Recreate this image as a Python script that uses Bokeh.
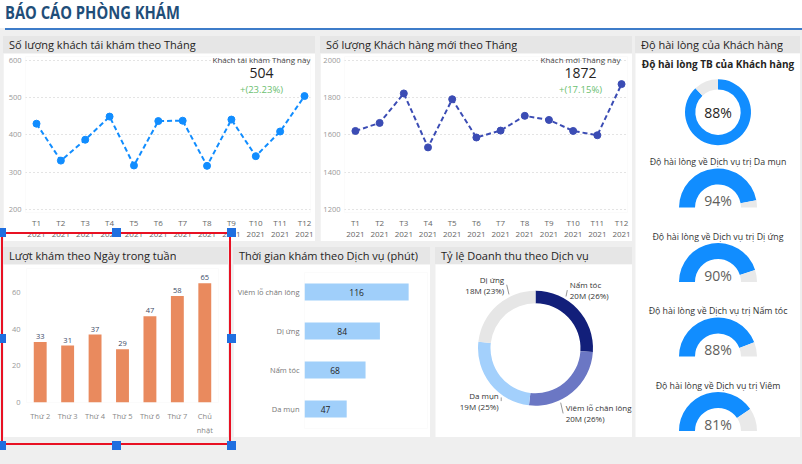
import math
import numpy as np
from bokeh.plotting import figure
from bokeh.models import (ColumnDataSource, Div, FixedTicker, Label, LabelSet, LinearAxis,
                          FactorRange, Range1d, Spacer)
from bokeh.layouts import column, row
from bokeh.embed import file_html
from bokeh.resources import INLINE
from bokeh.core.properties import value

FONT = "Open Sans"
HEADER_BG = "#E6E6E6"
PAGE_BG = "#EFEFEF"
TEXT = "#252423"
BLUE = "#118DFF"
INDIGO = "#3B4CB4"
ORANGE = "#E98A5E"
LIGHT_BLUE = "#A0CFFA"
GAUGE_GRAY = "#E9E9E9"
REV_COLORS = ["#121F7A", "#6B77C4", "#A3D0FC", "#E6E6E6"]
SEL_RED = "#E81123"
SEL_BLUE = "#1F6FE0"

# ---------------- data ----------------
page_title = "BÁO CÁO PHÒNG KHÁM"
month_ticks = ["T1", "T2", "T3", "T4", "T5", "T6", "T7", "T8", "T9", "T10", "T11", "T12"]
year = "2021"
returning_visits = [430, 331, 387, 449, 318, 437, 438, 317, 441, 343, 409, 504]
new_customers = [1621, 1664, 1822, 1533, 1791, 1586, 1623, 1702, 1680, 1621, 1598, 1872]
returning_ticks = [200, 300, 400, 500, 600]
new_ticks = [1200, 1400, 1600, 1800, 2000]

weekdays = ["Thứ 2", "Thứ 3", "Thứ 4", "Thứ 5", "Thứ 6", "Thứ 7", "Chủ nhật"]
weekday_visits = [33, 31, 37, 29, 47, 58, 65]
weekday_ticks = [0, 20, 40, 60]

services = ["Viêm lỗ chân lông", "Dị ứng", "Nấm tóc", "Da mụn"]
service_minutes = [116, 84, 68, 47]

revenue_services = ["Nấm tóc", "Viêm lỗ chân lông", "Da mụn", "Dị ứng"]
revenue_millions = [20.1, 19.9, 19.3, 17.9]

satisfaction_avg = 0.88
satisfaction_services = ["Da mụn", "Dị ứng", "Nấm tóc", "Viêm"]
satisfaction_values = [0.94, 0.90, 0.88, 0.81]

HDR = 17


# ---------------- helpers ----------------
def header(text, width, height=HDR):
    html = (f'<div style="font-family:\'{FONT}\';font-size:11px;color:{TEXT};'
            f'line-height:{height}px;padding-left:6px;white-space:nowrap;overflow:hidden;">{text}</div>')
    return Div(text=html, width=width, height=height, margin=0,
               styles={"background-color": HEADER_BG})


def base_fig(**kw):
    p = figure(output_backend="svg", toolbar_location=None, **kw)
    p.outline_line_color = None
    p.background_fill_color = "white"
    p.border_fill_color = "white"
    return p


def style_axis(ax, size="7.5px", color="#999999", standoff=4):
    ax.axis_line_color = None
    ax.major_tick_line_color = None
    ax.minor_tick_line_color = None
    ax.major_tick_in = 0
    ax.major_tick_out = 0
    ax.major_label_text_font = FONT
    ax.major_label_text_font_size = size
    ax.major_label_text_color = color
    ax.major_label_standoff = standoff


def line_panel(title, vals, color, caption, y0, y1, yticks, width, height):
    fig_h = height - HDR
    left, right, top, frame_h = 22, 5, 3, 156
    frame_w = width - left - right
    step = (frame_w - 17) / 11.0
    p = base_fig(width=width, height=fig_h,
                 x_range=Range1d(1 - 11 / step, 12 + 6 / step), y_range=Range1d(y0, y1),
                 min_border_left=left, min_border_right=right, min_border_top=top,
                 min_border_bottom=fig_h - top - frame_h)
    src = ColumnDataSource(dict(m=list(range(1, 13)), v=vals))
    p.line("m", "v", source=src, line_color=color, line_width=2, line_dash="5 3")
    p.scatter("m", "v", source=src, size=7, fill_color=color, line_color=color)
    p.xgrid.grid_line_color = None
    p.ygrid.grid_line_color = "#C8C8C8"
    p.ygrid.grid_line_dash = "1 3"
    p.yaxis.ticker = FixedTicker(ticks=yticks)
    style_axis(p.yaxis[0], standoff=4)
    ticks = list(range(1, 13))
    p.xaxis.ticker = FixedTicker(ticks=ticks)
    p.xaxis.major_label_overrides = {t: m for t, m in zip(ticks, month_ticks)}
    style_axis(p.xaxis[0], size="8px", color="#666666", standoff=4)
    yr = LinearAxis(ticker=FixedTicker(ticks=ticks),
                    major_label_overrides={t: year for t in ticks})
    style_axis(yr, size="8px", color="#666666", standoff=1)
    p.add_layout(yr, "below")
    pct = (vals[-1] / vals[-2] - 1) * 100
    cx = frame_w - 49
    p.add_layout(Label(x=cx, y=frame_h - 3.3, x_units="screen", y_units="screen", text=caption,
                       text_font=FONT, text_font_size="8px", text_color="#444444",
                       text_align="center", text_baseline="middle"))
    p.add_layout(Label(x=cx, y=frame_h - 16.7, x_units="screen", y_units="screen", text=str(vals[-1]),
                       text_font=FONT, text_font_size="14px", text_color=TEXT,
                       text_align="center", text_baseline="middle"))
    p.add_layout(Label(x=cx, y=frame_h - 33.3, x_units="screen", y_units="screen", text=f"+({pct:.2f}%)",
                       text_font=FONT, text_font_size="9.5px", text_color="#6CC070",
                       text_align="center", text_baseline="middle"))
    return column(header(title, width), p, spacing=0)


def weekday_panel(width, height):
    fig_h = height - HDR
    top, frame_h = 4, 137
    xs = [i + 0.5 for i in range(len(weekdays))]
    src = ColumnDataSource(dict(x=xs, visits=weekday_visits,
                                lbl=[str(v) for v in weekday_visits]))
    p = base_fig(width=width, height=fig_h, x_range=Range1d(0, len(weekdays)), y_range=Range1d(0, 73),
                 min_border_left=23, min_border_right=10, min_border_top=top,
                 min_border_bottom=fig_h - top - frame_h)
    p.vbar(x="x", top="visits", width=0.47, source=src, fill_color=ORANGE, line_color=None)
    p.add_layout(LabelSet(x="x", y="visits", text="lbl", source=src, y_offset=3,
                          text_font=value(FONT), text_font_size="7.5px", text_color="#3B4A66",
                          text_align="center", text_baseline="bottom"))
    p.grid.grid_line_color = None
    p.yaxis.ticker = FixedTicker(ticks=weekday_ticks)
    style_axis(p.yaxis[0], standoff=6)
    first = [d.split(" ")[0] if len(d.split(" ")[-1]) > 1 else d for d in weekdays]
    second = [d.split(" ")[1] if len(d.split(" ")[-1]) > 1 else "" for d in weekdays]
    p.xaxis.ticker = FixedTicker(ticks=xs)
    p.xaxis.major_label_overrides = {x: f for x, f in zip(xs, first)}
    style_axis(p.xaxis[0], color="#888888", standoff=8)
    ax2 = LinearAxis(ticker=FixedTicker(ticks=xs),
                     major_label_overrides={x: s for x, s in zip(xs, second)})
    style_axis(ax2, color="#888888", standoff=1)
    p.add_layout(ax2, "below")
    return column(header("Lượt khám theo Ngày trong tuần", width), p, spacing=0)


def selection_frame(gap_w, gap_h, left, top, width, height):
    """Power BI style selection outline, drawn from a gap element next to the selected visual."""
    parts = [f'<div style="position:absolute;left:{left}px;top:{top}px;width:{width}px;height:{height}px;'
             f'box-sizing:border-box;border:2px solid {SEL_RED};"></div>']
    for hx in (left, left + width / 2, left + width):
        for hy in (top, top + height / 2, top + height):
            if hx == left + width / 2 and hy == top + height / 2:
                continue
            parts.append(f'<div style="position:absolute;left:{hx - 4.5}px;top:{hy - 4.5}px;width:9px;'
                         f'height:9px;background:{SEL_BLUE};"></div>')
    html = (f'<div style="position:relative;width:{gap_w}px;height:{gap_h}px;overflow:visible;">'
            + "".join(parts) + "</div>")
    return Div(text=html, width=gap_w, height=gap_h, margin=0,
               styles={"overflow": "visible", "z-index": "5"})


def service_panel(width, height):
    fig_h = height - HDR
    src = ColumnDataSource(dict(svc=services, minutes=service_minutes,
                                mid=[m / 2 for m in service_minutes],
                                lbl=[str(m) for m in service_minutes]))
    p = base_fig(width=width, height=fig_h, y_range=FactorRange(*services[::-1]),
                 x_range=Range1d(0, 137), x_axis_location=None,
                 min_border_left=71, min_border_right=3, min_border_top=8, min_border_bottom=9)
    p.hbar(y="svc", right="minutes", height=0.44, source=src, fill_color=LIGHT_BLUE, line_color=None)
    p.text(x="mid", y="svc", text="lbl", source=src, text_font=value(FONT), text_font_size="8.5px",
           text_color=TEXT, text_align="center", text_baseline="middle")
    style_axis(p.yaxis[0], color="#777777", standoff=5)
    p.grid.grid_line_color = None
    return column(header("Thời gian khám theo Dịch vụ (phút)", width), p, spacing=0)


def revenue_panel(width, height):
    fig_h = height - HDR
    cx_off, cy_off = 100, 83.7
    p = base_fig(width=width, height=fig_h, x_range=Range1d(-cx_off, width - cx_off),
                 y_range=Range1d(-(fig_h - cy_off), cy_off), x_axis_type=None, y_axis_type=None,
                 min_border=0)
    p.grid.visible = False
    vals = np.array(revenue_millions)
    total = vals.sum()
    frac = vals / total
    cum = np.cumsum(frac)
    start = cum - frac
    mid = (start + frac / 2) * 2 * math.pi
    lx = 47 * np.sin(mid)
    ly = 85 * np.cos(mid)
    ang = np.arctan2(lx, ly)
    side = np.where(lx > 0, 1, -1)
    src = ColumnDataSource(dict(
        sa=math.pi / 2 - cum * 2 * math.pi, ea=math.pi / 2 - start * 2 * math.pi,
        color=REV_COLORS,
        name=revenue_services,
        val=[f"{round(v)}M ({round(f * 100)}%)" for v, f in zip(vals, frac)],
        ny=ly + 5.5, vy=ly - 5.5, lx=lx,
        align=["left" if s > 0 else "right" for s in side],
        x0=60 * np.sin(ang), y0=60 * np.cos(ang),
        x1=lx - side * 2.5, y1=ly,
    ))
    p.annular_wedge(x=0, y=0, inner_radius=45, outer_radius=57.5, start_angle="sa", end_angle="ea",
                    fill_color="color", line_color=None, source=src)
    p.segment(x0="x0", y0="y0", x1="x1", y1="y1", source=src, line_color="#9A9A9A", line_width=1)
    p.text(x="lx", y="ny", text="name", source=src, text_align="align", text_baseline="middle",
           text_font=value(FONT), text_font_size="8px", text_color="#333333")
    p.text(x="lx", y="vy", text="val", source=src, text_align="align", text_baseline="middle",
           text_font=value(FONT), text_font_size="8px", text_color="#333333")
    return column(header("Tỷ lệ Doanh thu theo Dịch vụ", width), p, spacing=0)


def satisfaction_panel(width, height):
    fig_h = height - HDR
    half = width / 2
    p = base_fig(width=width, height=fig_h, x_range=Range1d(-half, half), y_range=Range1d(-fig_h, 0),
                 x_axis_type=None, y_axis_type=None, min_border=0)
    p.grid.visible = False
    p.text(x=[0], y=[-10.3], text=["Độ hài lòng TB của Khách hàng"], text_font=value(FONT),
           text_font_size="10px", text_font_style="bold", text_align="center",
           text_baseline="middle", text_color=TEXT)
    dy = -58.7
    p.annular_wedge(x=0, y=dy, inner_radius=22.7, outer_radius=33,
                    start_angle=math.pi / 2 - 2 * math.pi * satisfaction_avg, end_angle=math.pi / 2,
                    fill_color=BLUE, line_color=None)
    p.annular_wedge(x=0, y=dy, inner_radius=22.7, outer_radius=33,
                    start_angle=math.pi / 2, end_angle=math.pi / 2 + 2 * math.pi * (1 - satisfaction_avg),
                    fill_color=GAUGE_GRAY, line_color=None)
    p.text(x=[0], y=[dy], text=[f"{round(satisfaction_avg * 100)}%"], text_font=value(FONT),
           text_font_size="14px", text_align="center", text_baseline="middle", text_color=TEXT)
    v = np.array(satisfaction_values)
    yb = -154 - 74.5 * np.arange(len(v))
    gsrc = ColumnDataSource(dict(
        yb=yb, x=np.zeros(len(v)), ly=yb + 45.3, py=yb + 7,
        split=math.pi - v * math.pi, pi=np.full(len(v), math.pi), zero=np.zeros(len(v)),
        label=[f"Độ hài lòng về Dịch vụ trị {s}" for s in satisfaction_services],
        pct=[f"{round(x * 100)}%" for x in v],
    ))
    p.annular_wedge(x="x", y="yb", inner_radius=23, outer_radius=39, start_angle="split", end_angle="pi",
                    fill_color=BLUE, line_color=None, source=gsrc)
    p.annular_wedge(x="x", y="yb", inner_radius=23, outer_radius=39, start_angle="zero", end_angle="split",
                    fill_color=GAUGE_GRAY, line_color=None, source=gsrc)
    p.text(x="x", y="ly", text="label", source=gsrc, text_font=value(FONT), text_font_size="8.8px",
           text_align="center", text_baseline="middle", text_color="#333333")
    p.text(x="x", y="py", text="pct", source=gsrc, text_font=value(FONT), text_font_size="14px",
           text_align="center", text_baseline="middle", text_color="#605E5C")
    return column(header("Độ hài lòng của Khách hàng", width), p, spacing=0)


# ---------------- layout ----------------
W, H = 802, 464
title_div = Div(text=(f'<div style="font-family:\'{FONT}\';font-weight:bold;font-size:18px;'
                      f'color:#1F4E79;line-height:24px;padding-left:5px;white-space:nowrap;">'
                      f'<span style="display:inline-block;transform:scaleX(0.82);transform-origin:0 50%;">'
                      f'{page_title}</span></div>'),
                width=W, height=28, margin=0, styles={"background-color": "white"})
line_div = Div(text="", width=W - 5, height=2, margin=0, styles={"background-color": "#3D7CC9"})

p1 = line_panel("Số lượng khách tái khám theo Tháng", returning_visits, BLUE,
                "Khách tái khám Tháng này", 192, 610, returning_ticks, 312, 205)
p2 = line_panel("Số lượng Khách hàng mới theo Tháng", new_customers, INDIGO,
                "Khách mới Tháng này", 1184, 2020, new_ticks, 312, 205)
p3 = weekday_panel(225, 190)
p4 = service_panel(197, 190)
p5 = revenue_panel(197, 190)
p6 = satisfaction_panel(165, 401)

# selection frame around the weekday visual: page box (1, 232)-(231, 445); gap element sits at (228, 247)
sel = selection_frame(5, 190, 1 - 228, 232 - 247, 230, 213)

top_row = row(p1, Spacer(width=5, height=205), p2, spacing=0)
bottom_row = row(p3, sel, p4, Spacer(width=5, height=190), p5, spacing=0)
left = column(top_row, Spacer(width=629, height=6), bottom_row, spacing=0)
main = row(Spacer(width=3, height=401), left, Spacer(width=3, height=401), p6, spacing=0)
root = column(title_div, row(Spacer(width=5, height=2), line_div, spacing=0),
              Spacer(width=W, height=6), main, spacing=0,
              width=W, height=H, styles={"background-color": PAGE_BG})

open("out.html", "w").write(file_html(root, INLINE))
